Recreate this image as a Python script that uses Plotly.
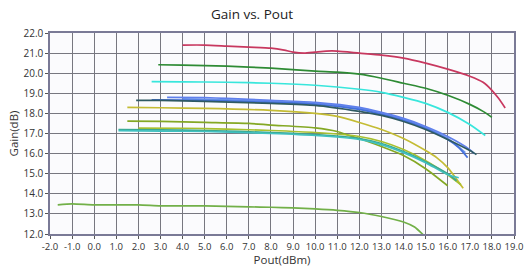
import plotly.graph_objects as go

# ---- data ----
crimson_x = [4.0, 5.0, 6.0, 7.0, 8.0, 8.6, 9.0, 9.5, 10.0, 10.5, 11.0, 12.0, 13.0, 14.0, 15.0, 16.0, 17.0, 17.6, 18.0, 18.3, 18.6]
crimson_y = [21.4, 21.4, 21.35, 21.3, 21.25, 21.15, 21.05, 21.0, 21.05, 21.1, 21.1, 21.0, 20.9, 20.75, 20.5, 20.2, 19.85, 19.55, 19.15, 18.75, 18.27]

dgreen_x = [2.9, 4.0, 6.0, 8.0, 10.0, 11.0, 12.0, 13.0, 14.0, 15.0, 16.0, 17.0, 17.6, 18.0]
dgreen_y = [20.42, 20.4, 20.35, 20.25, 20.1, 20.05, 19.95, 19.75, 19.5, 19.25, 18.9, 18.45, 18.1, 17.8]

cyan_x = [2.6, 4.0, 6.0, 8.0, 10.0, 12.0, 13.0, 14.0, 15.0, 16.0, 17.0, 17.7]
cyan_y = [19.58, 19.57, 19.55, 19.5, 19.4, 19.2, 19.05, 18.8, 18.5, 18.05, 17.45, 16.9]

slate_x = [1.9, 3.0, 5.0, 8.0, 10.0, 12.0, 13.0, 14.0, 15.0, 16.0, 17.0, 17.3]
slate_y = [18.65, 18.65, 18.6, 18.5, 18.4, 18.1, 17.9, 17.6, 17.2, 16.7, 16.15, 15.95]

blue_x = [2.6, 4.0, 6.0, 8.0, 10.0, 12.0, 13.0, 14.0, 15.0, 16.0, 16.5, 16.9]
blue_y = [18.67, 18.66, 18.62, 18.55, 18.45, 18.2, 17.95, 17.65, 17.25, 16.7, 16.3, 15.8]

lblue_x = [3.3, 5.0, 6.0, 8.0, 10.0, 12.0, 13.0, 14.0, 15.0, 16.0, 17.0, 17.2]
lblue_y = [18.8, 18.78, 18.75, 18.65, 18.55, 18.3, 18.05, 17.75, 17.35, 16.85, 16.2, 16.0]

sblue_x = [4.0, 6.0, 8.0, 10.0, 12.0, 13.0, 14.0, 15.0, 16.0, 16.8]
sblue_y = [18.72, 18.68, 18.6, 18.5, 18.25, 18.0, 17.7, 17.3, 16.75, 16.05]

yellow_x = [1.5, 3.0, 5.0, 8.0, 10.0, 11.0, 12.0, 13.0, 14.0, 15.0, 15.5, 16.0, 16.7]
yellow_y = [18.3, 18.28, 18.25, 18.15, 18.0, 17.85, 17.55, 17.2, 16.75, 16.15, 15.8, 15.3, 14.27]

olive_x = [1.5, 3.0, 5.0, 7.0, 8.0, 10.0, 11.0, 11.6, 12.0, 13.0, 14.0, 15.0, 16.0]
olive_y = [17.62, 17.6, 17.55, 17.5, 17.42, 17.28, 17.1, 16.88, 16.75, 16.35, 15.9, 15.25, 14.4]

ygreen_x = [2.0, 4.0, 6.0, 8.0, 10.0, 12.0, 13.0, 14.0, 15.0, 16.0, 16.6]
ygreen_y = [17.27, 17.26, 17.22, 17.15, 17.05, 16.85, 16.6, 16.2, 15.65, 14.95, 14.45]

teal_x = [1.1, 3.0, 5.0, 8.0, 10.0, 12.0, 13.0, 14.0, 15.0, 16.0, 16.4]
teal_y = [17.2, 17.18, 17.15, 17.05, 16.95, 16.75, 16.5, 16.1, 15.6, 15.0, 14.65]

aqua_x = [1.1, 3.0, 5.0, 8.0, 10.0, 12.0, 13.0, 14.0, 15.0, 16.0, 16.5]
aqua_y = [17.14, 17.12, 17.1, 17.0, 16.9, 16.7, 16.45, 16.05, 15.55, 14.95, 14.8]

lgreen_x = [-1.65, -1.0, 0.0, 2.0, 3.0, 4.0, 5.0, 6.0, 7.0, 8.0, 9.0, 10.0, 11.0, 12.0, 13.0, 14.0, 14.5, 14.9]
lgreen_y = [13.45, 13.5, 13.45, 13.45, 13.4, 13.4, 13.4, 13.37, 13.35, 13.33, 13.3, 13.25, 13.18, 13.07, 12.87, 12.6, 12.35, 11.95]

series = [
    (crimson_x, crimson_y, "#c8385f"),
    (dgreen_x, dgreen_y, "#2e8b34"),
    (cyan_x, cyan_y, "#38e6dc"),
    (yellow_x, yellow_y, "#c4bc34"),
    (olive_x, olive_y, "#84a824"),
    (ygreen_x, ygreen_y, "#a8c030"),
    (teal_x, teal_y, "#3aa890"),
    (aqua_x, aqua_y, "#40c0c0"),
    (sblue_x, sblue_y, "#6a94e8"),
    (blue_x, blue_y, "#4470dc"),
    (lblue_x, lblue_y, "#6080ec"),
    (slate_x, slate_y, "#2f5a62"),
    (lgreen_x, lgreen_y, "#72b048"),
]

x_ticks = [-2.0 + i for i in range(22)]
y_ticks = [12.0 + i for i in range(11)]

fig = go.Figure()
for xs, ys, c in series:
    fig.add_trace(go.Scatter(x=xs, y=ys, mode="lines", line=dict(color=c, width=1.7, shape="spline", smoothing=0.6),
                             showlegend=False, hoverinfo="skip"))

font = "Open Sans, DejaVu Sans, sans-serif"
fig.update_layout(
    width=526, height=267,
    margin=dict(l=50, r=12, t=33, b=33),
    paper_bgcolor="white", plot_bgcolor="#fbfbfd",
    title=dict(text="Gain vs. Pout", x=0.479, xanchor="center", y=0.945, yanchor="middle",
               font=dict(family=font, size=13.5, color="#222")),
    font=dict(family=font, size=10, color="#333"),
)
fig.update_xaxes(range=[-2, 19], tickvals=x_ticks, ticktext=[f"{v:.1f}" for v in x_ticks],
                 tickangle=0, automargin=False,
                 showgrid=True, gridcolor="#77777f", gridwidth=1, zeroline=False,
                 showline=True, linecolor="#7a7a96", linewidth=1.5, mirror=True,
                 ticks="outside", ticklen=3, tickcolor="#555",
                 title=dict(text="Pout(dBm)", font=dict(size=11.5, family=font, color="#333"), standoff=0),
                 tickfont=dict(size=9.5))
fig.update_yaxes(range=[12, 22], tickvals=y_ticks, ticktext=[f"{v:.1f}" for v in y_ticks],
                 automargin=False,
                 showgrid=True, gridcolor="#77777f", gridwidth=1, zeroline=False,
                 showline=True, linecolor="#7a7a96", linewidth=1.5, mirror=True,
                 ticks="outside", ticklen=3, tickcolor="#555",
                 title=dict(text="Gain(dB)", font=dict(size=11.5, family=font, color="#333"), standoff=2),
                 tickfont=dict(size=10))

fig.write_html("out.html", config={"displayModeBar": False},
               post_script="document.body.style.margin='0';document.body.style.overflow='hidden';")
